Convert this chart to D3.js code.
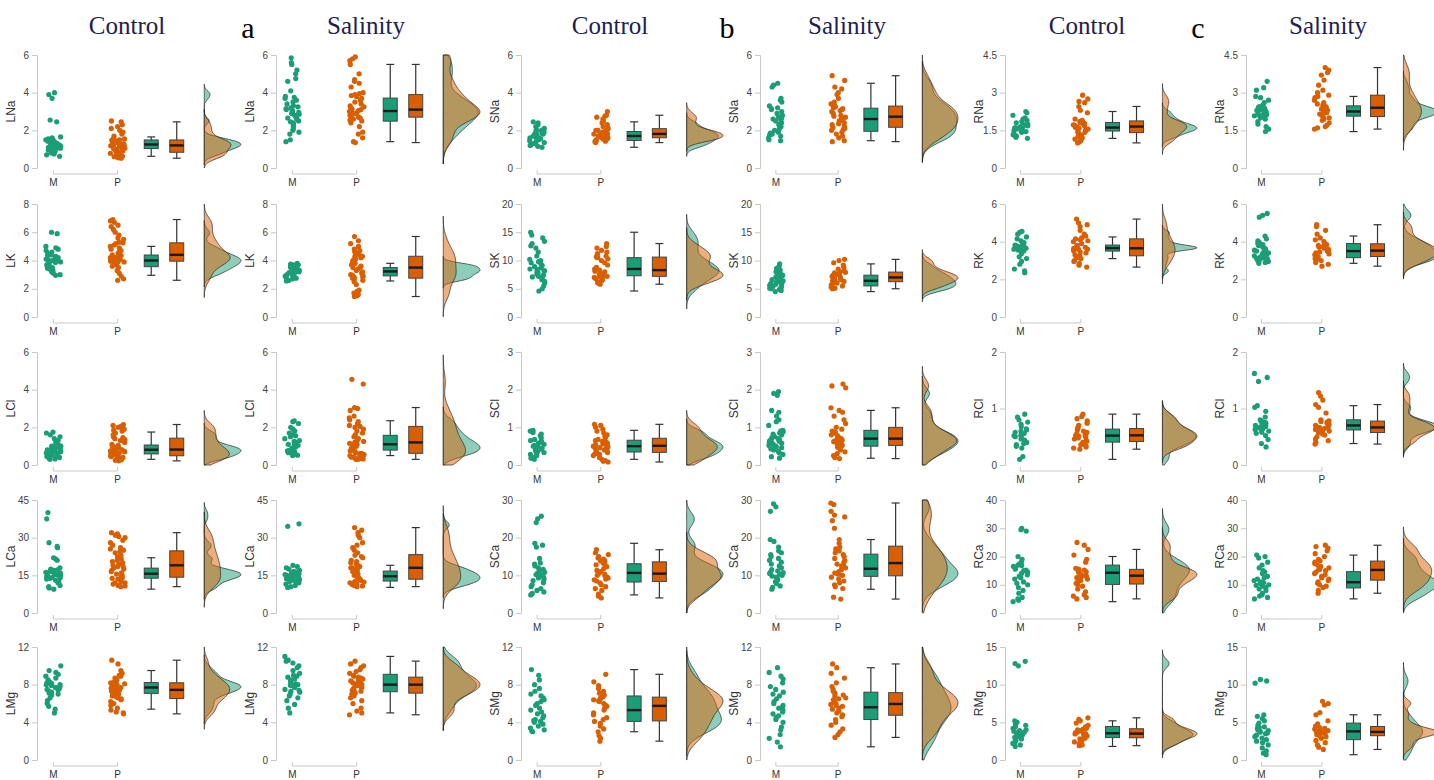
<!DOCTYPE html>
<html>
<head>
<meta charset="utf-8">
<script src="https://cdn.jsdelivr.net/npm/d3@7"></script>
<style>
  body { margin: 0; background: #fff; }
  text { font-family: Arial, "Liberation Sans", sans-serif; }
</style>
</head>
<body>
<svg id="chart" width="1434" height="780"></svg>
<script>
"use strict";

// ---- data ----
var groups = ["M", "P"];
var elements = ["Na", "K", "Cl", "Ca", "Mg"];
var tissues = ["L", "S", "R"];
var treatments = ["Control", "Salinity"];
var panelLetters = ["a", "b", "c"];

var ticksL = [[0, 2, 4, 6], [0, 2, 4, 6, 8], [0, 2, 4, 6], [0, 15, 30, 45], [0, 4, 8, 12]];
var ticksS = [[0, 2, 4, 6], [0, 5, 10, 15, 20], [0, 1, 2, 3], [0, 10, 20, 30], [0, 4, 8, 12]];
var ticksR = [[0, 1.5, 3, 4.5], [0, 2, 4, 6], [0, 1, 2], [0, 10, 20, 30, 40], [0, 5, 10, 15]];

// leaf
var LNa_C = [
  [0.62,0.7,0.75,0.8,0.85,0.9,0.95,1.0,1.02,1.05,1.08,1.1,1.15,1.18,1.2,1.22,1.25,1.25,1.28,1.3,1.32,1.35,1.4,1.42,1.45,1.48,1.5,1.55,1.6,1.65,2.45,2.55,3.7,3.9,4.0],
  [0.52,0.55,0.58,0.6,0.62,0.65,0.7,0.72,0.75,0.78,0.8,0.82,0.85,0.9,0.95,1.0,1.02,1.05,1.1,1.12,1.15,1.18,1.2,1.2,1.22,1.25,1.28,1.3,1.32,1.35,1.38,1.4,1.42,1.45,1.48,1.5,1.55,1.6,1.7,1.8,1.9,2.0,2.1,2.2,2.3,2.45,2.5]];
var LNa_S = [
  [1.4,1.5,1.8,1.9,2.0,2.1,2.2,2.3,2.4,2.45,2.5,2.6,2.65,2.7,2.8,2.85,2.9,2.95,3.0,3.0,3.05,3.1,3.15,3.2,3.25,3.3,3.4,3.5,3.6,3.7,3.75,3.8,4.1,4.6,4.75,5.0,5.2,5.5,5.6,5.85],
  [1.35,1.4,1.6,1.8,1.9,2.2,2.4,2.5,2.55,2.6,2.65,2.7,2.75,2.8,2.85,2.9,2.9,2.95,3.0,3.0,3.05,3.1,3.1,3.15,3.2,3.25,3.3,3.4,3.5,3.6,3.7,3.8,3.85,3.9,3.95,4.0,4.3,4.5,4.6,4.7,5.0,5.5,5.7,5.8,5.9]];
var LK_C = [
  [2.95,3.0,3.1,3.2,3.3,3.4,3.45,3.5,3.55,3.6,3.7,3.75,3.8,3.85,3.9,3.95,4.0,4.0,4.05,4.1,4.15,4.2,4.25,4.3,4.35,4.4,4.5,4.6,4.7,4.8,4.9,5.0,5.9,6.0],
  [2.6,2.7,2.9,3.1,3.3,3.5,3.6,3.7,3.8,3.85,3.9,3.95,4.0,4.0,4.05,4.1,4.15,4.2,4.2,4.25,4.3,4.35,4.4,4.4,4.45,4.5,4.6,4.7,4.8,4.9,5.0,5.1,5.2,5.25,5.3,5.5,5.6,5.8,6.0,6.2,6.4,6.5,6.7,6.8,6.9]];
var LK_S = [
  [2.55,2.6,2.65,2.7,2.75,2.8,2.85,2.9,2.95,3.0,3.05,3.1,3.15,3.2,3.2,3.25,3.3,3.3,3.35,3.4,3.45,3.5,3.5,3.55,3.6,3.65,3.7,3.7,3.75,3.8],
  [1.45,1.5,1.6,1.7,1.8,1.9,2.3,2.5,2.6,2.7,2.75,2.8,2.85,2.9,2.95,3.0,3.1,3.2,3.3,3.4,3.5,3.5,3.6,3.7,3.8,3.9,4.0,4.1,4.2,4.25,4.3,4.35,4.4,4.5,4.6,4.7,4.8,5.0,5.2,5.4,5.7]];
var LCl_C = [
  [0.3,0.32,0.35,0.4,0.45,0.5,0.52,0.55,0.6,0.62,0.65,0.7,0.72,0.75,0.78,0.8,0.82,0.85,0.88,0.9,0.95,1.0,1.0,1.05,1.1,1.2,1.3,1.4,1.5,1.6,1.7,1.75],
  [0.22,0.25,0.28,0.3,0.32,0.35,0.38,0.4,0.42,0.45,0.48,0.5,0.55,0.6,0.62,0.65,0.7,0.72,0.75,0.78,0.8,0.82,0.85,0.9,0.95,1.0,1.05,1.1,1.2,1.3,1.35,1.4,1.45,1.5,1.6,1.7,1.8,1.85,1.9,2.0,2.05,2.1,2.15]];
var LCl_S = [
  [0.5,0.52,0.55,0.6,0.65,0.7,0.75,0.78,0.8,0.85,0.9,0.95,1.0,1.05,1.1,1.1,1.15,1.2,1.25,1.3,1.4,1.5,1.55,1.6,1.7,1.8,1.9,2.0,2.2,2.3,2.35],
  [0.3,0.3,0.32,0.35,0.35,0.4,0.42,0.45,0.5,0.55,0.6,0.62,0.65,0.7,0.75,0.8,0.85,0.9,1.0,1.05,1.1,1.15,1.2,1.2,1.25,1.3,1.4,1.5,1.6,1.7,1.8,1.9,2.0,2.05,2.1,2.2,2.3,2.4,2.5,2.6,2.9,3.0,3.05,4.3,4.55]];
var LCa_C = [
  [9.5,10,10.5,11,12,12.5,13,13.5,13.8,14,14.2,14.5,14.8,15,15,15.2,15.5,15.8,16,16.2,16.5,16.8,17,17.2,17.5,18,21,21.5,22,26,26.5,28,37.5,40],
  [10.5,10.8,11,11.5,12,12,12.5,13,13.5,13.8,14,14.5,15,15.5,16,16.5,17,17.5,18,18.5,18.5,19,19.5,20,20.5,21,21.5,22,22.5,23,24,24.5,25,25.5,26,27,28,29,30,30.5,31,31.5,32]];
var LCa_S = [
  [10.2,10.5,11,11.5,12,12.3,12.5,12.8,13,13.3,13.6,14,14.2,14.5,14.8,15,15.3,15.6,16,16.3,16.6,17,17.5,18,18.5,19,34.5,35.5],
  [10.5,10.8,11,11.3,11.5,12,12.3,12.5,13,13.3,13.5,14,14.5,15,15.5,16,16.5,17,17.5,18,18,18.5,19,19.5,20,20.5,21,22,22.5,23,24,25,26,27,28,30,31,32,33,34]];
var LMg_C = [
  [5.0,5.4,5.7,6.0,6.3,6.6,6.9,7.0,7.1,7.2,7.3,7.4,7.5,7.6,7.6,7.7,7.7,7.8,7.9,8.0,8.0,8.1,8.2,8.2,8.3,8.5,8.7,8.9,9.1,9.3,9.5,10.0],
  [4.9,5.0,5.1,5.3,5.5,5.8,6.0,6.2,6.4,6.5,6.6,6.7,6.8,6.9,7.0,7.1,7.2,7.3,7.4,7.5,7.5,7.6,7.7,7.8,7.9,8.0,8.1,8.2,8.2,8.3,8.5,8.7,8.9,9.0,9.2,9.5,10.2,10.6]];
var LMg_S = [
  [5.0,5.5,5.9,6.3,6.6,6.8,7.0,7.2,7.3,7.4,7.5,7.7,7.8,7.9,8.0,8.0,8.1,8.3,8.5,8.6,8.8,8.9,9.0,9.2,9.5,9.8,10.0,10.3,10.5,10.6,11.0],
  [4.8,5.0,5.2,5.5,6.0,6.3,6.6,6.8,7.0,7.1,7.2,7.3,7.4,7.5,7.6,7.7,7.8,7.9,8.0,8.0,8.1,8.2,8.3,8.4,8.5,8.6,8.7,8.8,8.9,9.0,9.2,9.4,9.6,9.8,10.0,10.2,10.5]];

// stem
var SNa_C = [
  [1.1,1.15,1.2,1.25,1.3,1.35,1.4,1.45,1.5,1.5,1.55,1.6,1.6,1.65,1.7,1.7,1.75,1.8,1.8,1.85,1.9,1.9,1.95,2.0,2.05,2.1,2.2,2.3,2.4,2.45],
  [1.35,1.4,1.42,1.45,1.5,1.52,1.55,1.58,1.6,1.6,1.62,1.65,1.68,1.7,1.72,1.75,1.78,1.8,1.8,1.82,1.85,1.88,1.9,1.92,1.95,2.0,2.0,2.05,2.1,2.2,2.3,2.4,2.5,2.6,2.7,2.75,2.8,3.0]];
var SNa_S = [
  [1.45,1.5,1.6,1.7,1.75,1.8,1.85,1.9,2.0,2.1,2.2,2.3,2.4,2.5,2.55,2.6,2.65,2.7,2.8,2.9,3.0,3.1,3.15,3.2,3.3,3.5,3.6,3.7,4.3,4.4,4.5],
  [1.4,1.45,1.6,1.7,1.8,1.9,2.0,2.05,2.1,2.15,2.2,2.3,2.35,2.4,2.5,2.55,2.6,2.65,2.7,2.75,2.8,2.9,3.0,3.05,3.1,3.15,3.2,3.25,3.3,3.4,3.5,3.7,3.9,4.0,4.2,4.3,4.65,4.9]];
var SK_C = [
  [4.6,5.0,5.5,6.0,6.3,6.6,6.9,7.1,7.2,7.4,7.6,7.8,8.0,8.1,8.2,8.3,8.4,8.5,8.7,8.9,9.1,9.3,9.6,9.8,10.0,10.2,10.8,11.5,12.2,12.6,13.0,13.4,14.0,14.5,15.0],
  [5.8,6.0,6.2,6.4,6.6,6.8,7.0,7.1,7.2,7.3,7.5,7.6,7.7,7.8,8.0,8.1,8.3,8.5,8.8,9.2,9.6,10.0,10.3,10.5,10.6,10.8,11.0,11.2,11.5,11.8,12.2,12.5,13.0]];
var SK_S = [
  [4.5,4.7,4.9,5.0,5.1,5.2,5.4,5.5,5.6,5.8,5.9,6.0,6.1,6.3,6.4,6.5,6.6,6.8,7.0,7.1,7.3,7.4,7.6,7.8,8.0,8.3,8.6,9.0,9.4],
  [5.0,5.1,5.3,5.5,5.7,5.9,6.0,6.2,6.3,6.4,6.5,6.6,6.8,6.9,7.0,7.0,7.1,7.2,7.4,7.5,7.6,7.8,7.9,8.0,8.2,8.5,8.8,9.2,9.6,10.0,10.2]];
var SCl_C = [
  [0.15,0.18,0.2,0.25,0.28,0.3,0.33,0.35,0.38,0.4,0.42,0.45,0.48,0.5,0.5,0.52,0.55,0.58,0.6,0.62,0.65,0.68,0.72,0.78,0.82,0.86,0.9,0.92],
  [0.08,0.1,0.12,0.15,0.2,0.25,0.28,0.3,0.33,0.35,0.38,0.4,0.42,0.44,0.46,0.48,0.5,0.52,0.54,0.56,0.58,0.6,0.63,0.65,0.68,0.72,0.76,0.8,0.85,0.9,0.95,1.0,1.05,1.08]];
var SCl_S = [
  [0.18,0.22,0.28,0.32,0.36,0.4,0.43,0.46,0.48,0.5,0.52,0.55,0.58,0.6,0.62,0.63,0.65,0.68,0.7,0.72,0.75,0.78,0.8,0.82,0.85,0.88,0.9,0.92,1.05,1.15,1.2,1.3,1.4,1.45,1.85,1.9,1.95],
  [0.17,0.2,0.25,0.3,0.35,0.4,0.45,0.48,0.5,0.52,0.55,0.58,0.6,0.62,0.63,0.65,0.66,0.68,0.7,0.72,0.75,0.78,0.8,0.85,0.88,0.9,0.95,1.0,1.1,1.2,1.3,1.4,1.45,1.52,2.05,2.1,2.15]];
var SCa_C = [
  [4.8,5.2,5.6,6.0,6.5,7.0,7.5,8.0,8.3,8.6,9.0,9.3,9.6,10.0,10.2,10.5,10.8,11.0,11.2,11.5,11.6,12.0,12.5,13.0,13.3,14.5,17.5,18.0,18.5,24.0,25.0,25.7],
  [4.0,4.5,5.0,6.0,6.5,7.0,7.5,8.0,8.5,8.8,9.0,9.3,9.5,9.8,10.0,10.3,10.6,11.0,11.3,11.8,12.3,12.8,13.2,13.5,13.8,14.0,14.3,14.6,15.0,15.5,16.0,16.8]];
var SCa_S = [
  [6.3,6.8,7.2,7.8,8.3,8.8,9.2,9.5,9.8,10.0,10.3,10.5,10.7,10.9,11.2,11.5,12.0,12.5,13.0,13.5,14.0,14.5,15.0,15.5,16.0,16.5,17.5,19.0,19.5,27.0,28.2,29.0],
  [3.7,4.2,6.5,7.0,7.5,8.0,8.5,9.0,9.5,10.0,10.3,10.6,11.0,11.5,12.0,12.5,12.5,13.0,13.5,14.0,14.5,15.0,15.5,16.0,16.5,17.0,17.5,18.5,19.5,22.5,24.5,25.5,26.0,27.0,28.8,29.2]];
var SMg_C = [
  [3.0,3.1,3.2,3.4,3.6,3.8,4.0,4.1,4.2,4.3,4.5,4.7,4.9,5.1,5.3,5.5,5.8,6.0,6.2,6.4,6.6,6.8,7.0,7.3,7.6,8.0,8.5,9.0,9.6],
  [2.0,2.3,2.6,3.0,3.3,3.6,3.9,4.1,4.3,4.5,4.8,5.0,5.3,5.5,5.7,5.8,6.0,6.2,6.3,6.4,6.5,6.6,6.7,6.9,7.1,7.3,7.6,7.9,8.3,9.1]];
var SMg_S = [
  [1.4,1.9,2.3,2.7,3.2,3.5,4.0,4.3,4.5,4.7,4.9,5.1,5.3,5.5,5.6,5.8,6.0,6.2,6.5,6.8,7.0,7.2,7.5,7.8,8.2,8.6,8.9,9.3,9.8],
  [2.4,2.7,3.0,3.3,3.7,4.0,4.3,4.6,4.8,5.0,5.2,5.4,5.5,5.7,5.8,5.9,6.0,6.2,6.4,6.5,6.6,6.8,6.9,7.1,7.3,7.5,7.8,8.2,8.7,9.2,9.8,10.2]];

// root
var RNa_C = [
  [1.18,1.22,1.28,1.32,1.38,1.42,1.45,1.48,1.5,1.52,1.55,1.58,1.6,1.6,1.62,1.65,1.68,1.7,1.72,1.75,1.8,1.85,1.9,1.95,2.0,2.1,2.2,2.25],
  [1.0,1.05,1.1,1.15,1.2,1.25,1.3,1.35,1.4,1.42,1.45,1.5,1.52,1.55,1.58,1.6,1.62,1.65,1.68,1.7,1.72,1.75,1.78,1.8,1.82,1.85,1.9,1.95,2.2,2.3,2.45,2.6,2.65,2.75,2.9]];
var RNa_S = [
  [1.45,1.55,1.65,1.75,1.85,1.95,2.0,2.05,2.08,2.1,2.12,2.15,2.2,2.22,2.25,2.25,2.28,2.3,2.32,2.35,2.4,2.42,2.45,2.5,2.6,2.7,2.8,2.85,3.1,3.2,3.45],
  [1.55,1.6,1.65,1.7,1.8,1.9,1.95,2.0,2.05,2.1,2.15,2.2,2.25,2.3,2.3,2.35,2.4,2.45,2.5,2.55,2.6,2.7,2.8,2.85,2.9,3.0,3.1,3.3,3.5,3.7,3.8,3.9,4.0]];
var RK_C = [
  [2.35,2.45,2.55,2.8,2.95,3.1,3.2,3.35,3.5,3.55,3.58,3.6,3.62,3.63,3.65,3.65,3.66,3.68,3.7,3.7,3.72,3.75,3.78,3.8,3.82,3.85,3.95,4.05,4.15,4.25,4.4,4.5,4.55],
  [2.65,2.75,2.85,2.95,3.0,3.1,3.15,3.2,3.25,3.3,3.4,3.45,3.5,3.55,3.6,3.6,3.65,3.7,3.75,3.8,3.9,4.0,4.05,4.1,4.15,4.2,4.3,4.4,4.6,4.8,4.9,5.0,5.2]];
var RK_S = [
  [2.85,2.9,2.95,3.0,3.05,3.1,3.12,3.15,3.2,3.25,3.3,3.35,3.4,3.45,3.5,3.55,3.6,3.65,3.7,3.8,3.85,3.9,3.95,4.05,4.15,4.3,5.3,5.4,5.5],
  [2.7,2.8,2.9,3.0,3.05,3.1,3.15,3.2,3.25,3.3,3.35,3.4,3.45,3.5,3.5,3.55,3.6,3.65,3.7,3.75,3.8,3.85,3.9,4.0,4.1,4.2,4.4,4.6,4.8,4.9]];
var RCl_C = [
  [0.1,0.15,0.3,0.33,0.36,0.38,0.4,0.42,0.44,0.46,0.48,0.5,0.52,0.52,0.54,0.56,0.58,0.6,0.62,0.64,0.68,0.72,0.76,0.8,0.85,0.9],
  [0.28,0.3,0.32,0.34,0.36,0.38,0.4,0.42,0.44,0.46,0.48,0.5,0.51,0.52,0.53,0.55,0.56,0.58,0.6,0.62,0.64,0.66,0.7,0.74,0.78,0.82,0.86,0.9]];
var RCl_S = [
  [0.32,0.38,0.45,0.52,0.56,0.58,0.6,0.62,0.63,0.64,0.65,0.66,0.68,0.68,0.7,0.71,0.72,0.74,0.75,0.76,0.78,0.8,0.85,0.95,1.02,1.05,1.48,1.55,1.62],
  [0.37,0.4,0.43,0.46,0.5,0.53,0.55,0.57,0.59,0.6,0.62,0.63,0.64,0.65,0.66,0.67,0.68,0.7,0.72,0.74,0.76,0.77,0.78,0.8,0.92,1.02,1.07,1.15,1.22,1.28]];
var RCa_C = [
  [4.0,4.5,5.0,5.5,7.0,8.0,9.0,10.0,10.5,11.0,12.0,12.5,13.0,13.5,14.0,14.5,15.0,15.2,15.5,16.0,16.5,16.8,17.0,17.5,18.0,19.0,20.0,29.0,29.5,30.0],
  [5.0,5.5,6.0,6.5,7.5,8.5,9.5,10.0,10.5,11.0,11.5,12.0,12.5,12.8,13.0,13.2,13.5,14.0,14.3,14.6,15.0,15.2,15.4,15.5,15.8,18.0,19.0,20.5,22.5,24.0,25.0]];
var RCa_S = [
  [5.0,5.5,6.0,6.5,7.0,8.0,8.5,9.0,9.5,9.8,10.0,10.3,10.5,10.8,11.0,11.5,12.0,12.5,13.0,14.0,14.5,15.0,16.0,17.0,18.0,19.5,20.0,20.5],
  [7.0,8.0,9.0,9.5,10.0,10.5,11.0,11.5,12.0,12.5,13.0,13.5,14.0,14.5,15.0,15.5,15.5,16.0,16.5,17.0,17.5,18.0,18.5,19.0,20.0,21.0,22.0,23.0,23.5,24.0]];
var RMg_C = [
  [1.8,2.0,2.2,2.4,2.6,2.8,2.9,3.0,3.1,3.2,3.3,3.4,3.4,3.5,3.6,3.7,3.8,3.9,4.0,4.2,4.4,4.6,4.8,5.0,5.2,12.5,12.8,13.1],
  [1.9,2.0,2.2,2.4,2.6,2.8,2.9,3.0,3.1,3.2,3.3,3.4,3.45,3.5,3.6,3.7,3.8,3.9,4.0,4.1,4.2,4.4,4.6,4.9,5.2,5.4,5.6]];
var RMg_S = [
  [0.7,0.9,1.2,1.6,2.0,2.3,2.5,2.7,2.9,3.1,3.3,3.5,3.6,3.7,3.8,3.9,4.0,4.2,4.3,4.4,4.6,4.9,5.2,5.5,5.8,6.0,10.2,10.5,10.7],
  [1.4,1.7,2.0,2.3,2.6,2.9,3.1,3.2,3.3,3.4,3.5,3.55,3.6,3.65,3.7,3.75,3.8,3.9,4.0,4.1,4.2,4.3,4.5,4.8,5.2,6.0,6.3,7.3,7.5,7.8]];

var panelData = {
  LNa: [LNa_C, LNa_S], LK: [LK_C, LK_S], LCl: [LCl_C, LCl_S], LCa: [LCa_C, LCa_S], LMg: [LMg_C, LMg_S],
  SNa: [SNa_C, SNa_S], SK: [SK_C, SK_S], SCl: [SCl_C, SCl_S], SCa: [SCa_C, SCa_S], SMg: [SMg_C, SMg_S],
  RNa: [RNa_C, RNa_S], RK: [RK_C, RK_S], RCl: [RCl_C, RCl_S], RCa: [RCa_C, RCa_S], RMg: [RMg_C, RMg_S]
};
var tickSets = { L: ticksL, S: ticksS, R: ticksR };

// ---- layout ----
var colX = [37, 276, 521, 760, 1005, 1246];
var colK = [1.02, 1.02, 1.01, 0.99, 0.96, 0.96];
var rowTop = [55, 204, 352, 500, 647];
var rowH = 113;
var titleX = [127, 366, 610, 847, 1087, 1328];
var letterX = [248, 727, 1198];
var colors = { M: "#1b9e77", P: "#d95f02" };

var svg = d3.select("#chart");

// titles
titleX.forEach(function (x, c) {
    svg.append("text")
        .attr("x", x).attr("y", 34)
        .attr("text-anchor", "middle")
        .style("font-family", "'Liberation Serif', 'Times New Roman', serif")
        .style("font-size", "25px")
        .attr("fill", "#1c2150")
        .text(treatments[c % 2]);
});
letterX.forEach(function (x, i) {
    svg.append("text")
        .attr("x", x).attr("y", 38)
        .attr("text-anchor", "middle")
        .style("font-family", "'Liberation Serif', 'Times New Roman', serif")
        .style("font-size", "30px")
        .attr("fill", "#000")
        .text(panelLetters[i]);
});

// deterministic jitter (horizontal position only)
function jitter(i, g) {
    var s = Math.sin((i + 1) * 12.9898 + g * 78.233) * 43758.5453;
    return s - Math.floor(s) - 0.5;
}

function boxStats(arr) {
    var v = arr.slice().sort(d3.ascending);
    var q1 = d3.quantile(v, 0.25), med = d3.quantile(v, 0.5), q3 = d3.quantile(v, 0.75);
    var iqr = q3 - q1;
    var lo = d3.min(v.filter(function (d) { return d >= q1 - 1.5 * iqr; }));
    var hi = d3.max(v.filter(function (d) { return d <= q3 + 1.5 * iqr; }));
    return { q1: q1, med: med, q3: q3, lo: lo, hi: hi };
}

function kde(arr, lo, hi) {
    var n = arr.length;
    var sd = d3.deviation(arr);
    var v = arr.slice().sort(d3.ascending);
    var iqr = d3.quantile(v, 0.75) - d3.quantile(v, 0.25);
    var bw = 0.9 * Math.min(sd, iqr / 1.34) * Math.pow(n, -0.2);
    var a = Math.max(lo, d3.min(arr) - 3 * bw), b = Math.min(hi, d3.max(arr) + 3 * bw);
    var pts = d3.range(0, 121).map(function (k) { return a + (b - a) * k / 120; });
    return pts.map(function (y) {
        var s = d3.sum(arr, function (x) { var u = (y - x) / bw; return Math.exp(-0.5 * u * u); });
        return [y, s / (n * bw * Math.sqrt(2 * Math.PI))];
    });
}

function drawPanel(c, r) {
    var tissue = tissues[Math.floor(c / 2)];
    var key = tissue + elements[r];
    var series = panelData[key][c % 2];
    var ticks = tickSets[tissue][r];
    var k = colK[c];
    var g = svg.append("g").attr("transform", "translate(" + colX[c] + "," + rowTop[r] + ")");

    var y = d3.scaleLinear().domain([0, ticks[ticks.length - 1]]).range([rowH, 0]);
    var xPts = d3.scalePoint().domain(groups).range([16 * k, 79 * k]);
    var xBox = d3.scalePoint().domain(groups).range([112 * k, 137 * k]);
    var dens0 = 164 * k, densW = 36 * k;

    // y axis
    var yAxis = g.append("g").attr("class", "y-axis")
        .call(d3.axisLeft(y).tickValues(ticks).tickSize(5).tickPadding(3).tickFormat(d3.format("")));
    yAxis.select(".domain").attr("stroke", "#c8c8c8");
    yAxis.selectAll(".tick line").attr("stroke", "#c8c8c8");
    yAxis.selectAll(".tick text").attr("fill", "#444").style("font-size", "10px");

    g.append("text")
        .attr("transform", "translate(-22," + (rowH / 2) + ") rotate(-90)")
        .attr("text-anchor", "middle")
        .style("font-size", "12px")
        .attr("fill", "#333")
        .text(key);

    // x bracket
    var bx0 = xPts("M"), bx1 = xPts("P"), by = rowH + 6;
    g.append("path")
        .attr("d", "M" + bx0 + "," + (by - 4) + "V" + by + "H" + bx1 + "V" + (by - 4))
        .attr("fill", "none").attr("stroke", "#c8c8c8");
    groups.forEach(function (grp) {
        g.append("text")
            .attr("x", xPts(grp)).attr("y", by + 12)
            .attr("text-anchor", "middle")
            .style("font-size", "10px").attr("fill", "#333")
            .text(grp);
    });

    // densities (area-scaled across both groups)
    var dens = series.map(function (arr) { return kde(arr, y.domain()[0], y.domain()[1]); });
    var dmax = d3.max(dens, function (d) { return d3.max(d, function (p) { return p[1]; }); });
    var w = d3.scaleLinear().domain([0, dmax]).range([0, densW]);
    var area = d3.area()
        .y(function (d) { return y(d[0]); })
        .x0(dens0)
        .x1(function (d) { return dens0 + w(d[1]); })
        .curve(d3.curveBasis);
    dens.forEach(function (d, i) {
        g.append("path")
            .datum(d)
            .attr("d", area)
            .attr("fill", colors[groups[i]])
            .attr("fill-opacity", 0.5)
            .attr("stroke", "#222")
            .attr("stroke-width", 0.7);
    });

    // boxes
    series.forEach(function (arr, i) {
        var grp = groups[i];
        var st = boxStats(arr);
        var cx = xBox(grp), bw = 14, cap = 8;
        var bg = g.append("g");
        bg.append("line").attr("x1", cx).attr("x2", cx).attr("y1", y(st.hi)).attr("y2", y(st.q3))
            .attr("stroke", "#333").attr("stroke-width", 1.2);
        bg.append("line").attr("x1", cx).attr("x2", cx).attr("y1", y(st.q1)).attr("y2", y(st.lo))
            .attr("stroke", "#333").attr("stroke-width", 1.2);
        bg.append("line").attr("x1", cx - cap / 2).attr("x2", cx + cap / 2).attr("y1", y(st.hi)).attr("y2", y(st.hi))
            .attr("stroke", "#333").attr("stroke-width", 1.2);
        bg.append("line").attr("x1", cx - cap / 2).attr("x2", cx + cap / 2).attr("y1", y(st.lo)).attr("y2", y(st.lo))
            .attr("stroke", "#333").attr("stroke-width", 1.2);
        bg.append("rect")
            .attr("x", cx - bw / 2).attr("width", bw)
            .attr("y", y(st.q3)).attr("height", y(st.q1) - y(st.q3))
            .attr("fill", colors[grp]).attr("stroke", "#444").attr("stroke-width", 1);
        bg.append("line").attr("x1", cx - bw / 2).attr("x2", cx + bw / 2).attr("y1", y(st.med)).attr("y2", y(st.med))
            .attr("stroke", "#1a1a1a").attr("stroke-width", 2.4);
    });

    // jittered points
    series.forEach(function (arr, i) {
        var grp = groups[i];
        g.append("g").selectAll("circle")
            .data(arr)
            .enter().append("circle")
            .attr("cx", function (d, j) { return xPts(grp) + jitter(j, i + c * 2 + r * 13) * 15; })
            .attr("cy", function (d) { return y(d); })
            .attr("r", 2.6)
            .attr("fill", colors[grp]);
    });
}

for (var c = 0; c < 6; c++) {
    for (var r = 0; r < 5; r++) {
        drawPanel(c, r);
    }
}
</script>
</body>
</html>
